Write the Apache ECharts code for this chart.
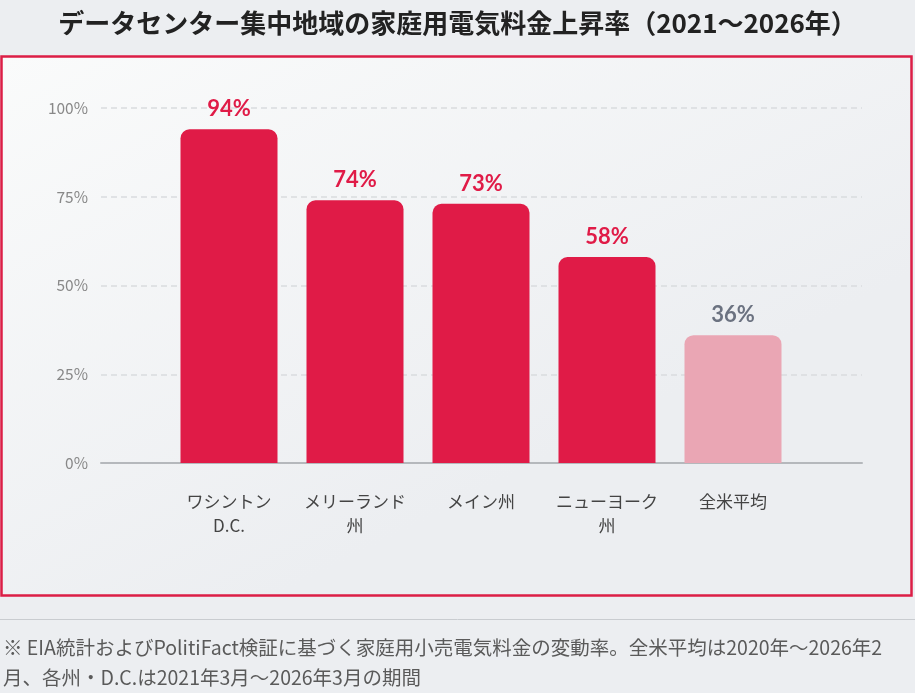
<!DOCTYPE html>
<html>
<head>
<meta charset="utf-8">
<script src="https://cdn.jsdelivr.net/npm/echarts@6/dist/echarts.min.js"></script>
<style>
html,body{margin:0;padding:0;background:#eceef1;}
#c{width:915px;height:693px;}
</style>
</head>
<body>
<div id="c"></div>
<script>
const categories = ['ワシントン\nD.C.', 'メリーランド\n州', 'メイン州', 'ニューヨーク\n州', '全米平均'];
const values = [94, 74, 73, 58, 36];
const yTicks = [0, 25, 50, 75, 100];
const titleText = 'データセンター集中地域の家庭用電気料金上昇率（2021～2026年）';
const noteLines = ['※ EIA統計およびPolitiFact検証に基づく家庭用小売電気料金の変動率。全米平均は2020年～2026年2', '月、各州・D.C.は2021年3月～2026年3月の期間'];

const RED = '#e01b47';
const PINK = '#eaa6b4';
const font = '"Noto Sans CJK JP", "Noto Sans", sans-serif';

const chart = echarts.init(document.getElementById('c'));
chart.setOption({
  backgroundColor: 'transparent',
  animation: false,
  textStyle: { fontFamily: font },
  title: {
    text: titleText,
    left: 'center',
    top: 5,
    textStyle: { fontSize: 26, fontWeight: 'bold', color: '#222', fontFamily: font }
  },
  graphic: [
    {
      type: 'rect', z: -10, silent: true,
      shape: { x: 1.5, y: 56.5, width: 910, height: 539 },
      style: {
        stroke: '#dc1e46', lineWidth: 2.5,
        fill: { type: 'linear', x: 0, y: 0, x2: 0.3, y2: 1, colorStops: [
          { offset: 0, color: '#fafbfb' }, { offset: 1, color: '#eceef1' }
        ] }
      }
    },
    {
      type: 'line', silent: true,
      shape: { x1: 0, y1: 619.5, x2: 915, y2: 619.5 },
      style: { stroke: '#c9ccd0', lineWidth: 1 }
    },
    {
      type: 'text', silent: true, left: 3, top: 633,
      style: { text: noteLines.join('\n'), fontSize: 19.5, lineHeight: 30, fill: '#5a5a5a', fontFamily: font }
    }
  ],
  grid: [
    { left: 101, right: 53, top: 108, bottom: 230 },
    { left: 166, right: 119, top: 108, bottom: 230 }
  ],
  xAxis: [
    {
      type: 'category', gridIndex: 0, data: categories,
      axisLine: { show: true, lineStyle: { color: '#b5b8bc', width: 2 } },
      axisTick: { show: false }, axisLabel: { show: false }, splitLine: { show: false }
    },
    {
      type: 'category', gridIndex: 1, data: categories,
      axisLine: { show: false }, axisTick: { show: false },
      axisLabel: { margin: 27, fontSize: 17, lineHeight: 24, color: '#444', fontFamily: font, interval: 0 }
    }
  ],
  yAxis: [
    {
      type: 'value', gridIndex: 0, min: 0, max: 100, interval: 25,
      axisLine: { show: false }, axisTick: { show: false },
      axisLabel: { margin: 13, fontSize: 15.5, color: '#888', formatter: v => yTicks.includes(v) ? v + '%' : '' },
      splitLine: { show: true, lineStyle: { color: '#d9dbde', type: [6, 4], width: 1.5 } }
    },
    {
      type: 'value', gridIndex: 1, min: 0, max: 100, interval: 25,
      show: false, splitLine: { show: false }
    }
  ],
  series: [{
    type: 'bar',
    xAxisIndex: 1, yAxisIndex: 1,
    barWidth: 97,
    data: values.map((v, i) => ({
      value: v,
      itemStyle: { color: i === values.length - 1 ? PINK : RED, borderRadius: [9, 9, 0, 0] },
      label: { color: i === values.length - 1 ? '#6b7280' : RED }
    })),
    label: {
      show: true, position: 'top', distance: 9,
      formatter: p => p.value + '%',
      fontSize: 22, fontWeight: 'bold', fontFamily: 'Lato, "Noto Sans", sans-serif'
    }
  }]
});
</script>
</body>
</html>
